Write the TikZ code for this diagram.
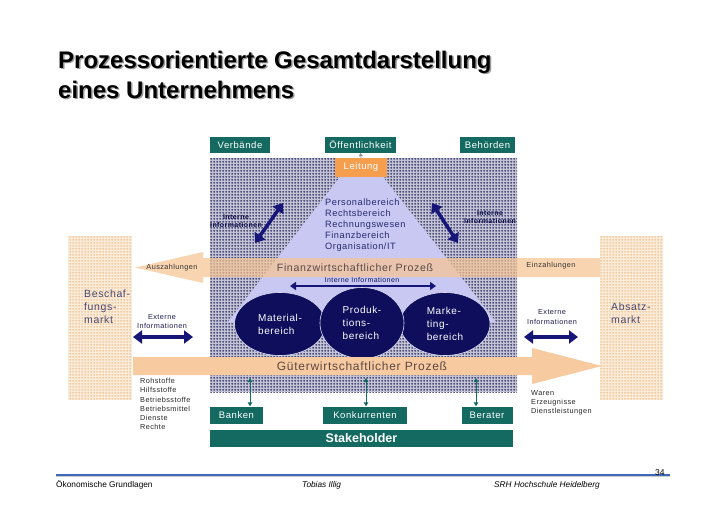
\documentclass[tikz,border=0pt]{standalone}
\usepackage{fontspec}
\setmainfont{Liberation Sans}
\newfontfamily\dfont[LetterSpace=6]{Liberation Sans}
\usetikzlibrary{arrows.meta,patterns.meta,shapes.geometric}
\definecolor{tealbox}{RGB}{20,106,96}
\definecolor{leitorange}{RGB}{245,158,78}
\definecolor{lav}{RGB}{200,200,242}
\definecolor{navyell}{RGB}{14,14,92}
\definecolor{navyarr}{RGB}{22,22,120}
\definecolor{peach}{RGB}{246,196,148}
\definecolor{dotbg}{RGB}{196,196,214}
\definecolor{dotfg}{RGB}{34,34,92}
\definecolor{mktbg}{RGB}{251,236,218}
\definecolor{mktdot}{RGB}{238,192,142}
\definecolor{txtnavy}{RGB}{40,40,112}
\definecolor{txtbrown}{RGB}{92,72,70}
\definecolor{footblue}{RGB}{62,104,188}
\tikzdeclarepattern{name=bdots, type=uncolored,
  bounding box={(0pt,0pt) and (3pt,3pt)}, tile size={(3pt,3pt)},
  code={\fill (1.5pt,1.5pt) circle (1.2pt);}}
\begin{document}
\begin{tikzpicture}[x=1pt,y=-1pt,
  tbox/.style={fill=tealbox, text=white, inner sep=0pt, font=\dfont\fontsize{9.5}{11}\selectfont},
  ell/.style={ellipse, fill=navyell, draw=lav!60!white, line width=0.6pt, text=white, inner sep=0pt, align=left, font=\dfont\fontsize{10}{13}\selectfont},
  bigarrow/.style={draw=navyarr, line width=4pt, {Triangle[length=9pt,width=13pt]}-{Triangle[length=9pt,width=13pt]}},
  midarrow/.style={draw=navyarr, line width=2pt, {Triangle[length=6pt,width=8pt]}-{Triangle[length=6pt,width=8pt]}},
  smallarrow/.style={draw=tealbox, line width=1pt, {Triangle[length=4pt,width=4.5pt]}-{Triangle[length=4pt,width=4.5pt]}},
  smalltxt/.style={font=\dfont\fontsize{7.3}{9.3}\selectfont, inner sep=0pt},
  mkttxt/.style={font=\dfont\fontsize{10.5}{13}\selectfont, text=txtnavy!70!black!80, align=left, inner sep=0pt, anchor=north west},
  footer/.style={font=\fontsize{8.3}{10}\selectfont, inner sep=0pt, anchor=base west}]
\useasboundingbox (0,0) rectangle (728,514);
\fill[white] (0,0) rectangle (728,514);
% title
\node[anchor=base west, inner sep=0pt, align=left, text=black!40, font=\bfseries\fontsize{24}{30}\selectfont] (titleshadow) at (59.5,99.5) {Prozessorientierte Gesamtdarstellung\\eines Unternehmens};
\node[anchor=base west, inner sep=0pt, align=left, font=\bfseries\fontsize{24}{30}\selectfont] (title) at (58,98) {Prozessorientierte Gesamtdarstellung\\eines Unternehmens};
% markets
\fill[mktbg] (68,236) rectangle (132,400);
\fill[pattern=bdots, pattern color=mktdot] (68,236) rectangle (132,400);
\fill[mktbg] (600,236) rectangle (663,400);
\fill[pattern=bdots, pattern color=mktdot] (600,236) rectangle (663,400);
\node[mkttxt] (beschaf) at (84,290) {Beschaf-\\fungs-\\markt};
\node[mkttxt] (absatz) at (611,303) {Absatz-\\markt};
% company dotted area
\fill[dotbg] (210,158) rectangle (517,392);
\fill[pattern=bdots, pattern color=dotfg] (210,158) rectangle (517,392);
% top boxes
\node[tbox, minimum width=60pt, minimum height=16pt] (verb) at (240,145) {Verbände};
\node[tbox, minimum width=71pt, minimum height=16pt] (oeff) at (360.5,145) {Öffentlichkeit};
\node[tbox, minimum width=55pt, minimum height=16pt] (behoe) at (487.5,145) {Behörden};
% triangle
\fill[lav] (340,177) -- (383,177) -- (496,322) -- (228,322) -- cycle;
\node[tbox, fill=leitorange, minimum width=52pt, minimum height=19pt] (leit) at (361,167.5) {Leitung};
\draw[black!45, line width=0.6pt, -{Triangle[length=3pt,width=4pt]}] (leit.north) -- (oeff.south);
\node[anchor=north west, inner sep=0pt, align=left, text=txtnavy, font=\dfont\fontsize{9.2}{11}\selectfont] (bereiche) at (325,199) {Personalbereich\\Rechtsbereich\\Rechnungswesen\\Finanzbereich\\Organisation/IT};
% diagonal arrows
\coordinate (dl1) at (255,243); \coordinate (dl2) at (283,203);
\coordinate (dr1) at (432,203); \coordinate (dr2) at (458,243);
\draw[bigarrow, line width=3.5pt] (dl1) -- (dl2);
\draw[bigarrow, line width=3.5pt] (dr1) -- (dr2);
\node[smalltxt, align=center, text=navyarr!60!black, font=\dfont\bfseries\fontsize{7}{8}\selectfont] (intl) at (236,221) {Interne\\Informationen};
\node[smalltxt, align=center, text=navyarr!60!black, font=\dfont\bfseries\fontsize{7}{8}\selectfont] (intr) at (490,217) {Interne\\Informationen};
% Finanz band
\fill[peach, opacity=0.72] (600,258) -- (203,258) -- (203,252) -- (135,267.5) -- (203,283) -- (203,277) -- (600,277) -- cycle;
\node[inner sep=0pt, text=txtbrown, font=\dfont\fontsize{10.6}{12}\selectfont] (finanz) at (355,267.5) {Finanzwirtschaftlicher Prozeß};
\node[smalltxt, text=black!80] (ausz) at (172,267.5) {Auszahlungen};
\node[smalltxt, text=black!80] (einz) at (551,266) {Einzahlungen};
% internal info
\node[smalltxt, text=navyarr!80!black, font=\dfont\fontsize{7}{8}\selectfont] (intc) at (362,279.5) {Interne Informationen};
\coordinate (ic1) at (290,286); \coordinate (ic2) at (436,286);
\draw[midarrow] (ic1) -- (ic2);
% ellipses
\node[ell, minimum width=91pt, minimum height=63pt] (mat) at (280,324) {Material-\\bereich};
\node[ell, minimum width=90pt, minimum height=63pt] (mkt) at (445,324) {Marke-\\ting-\\bereich};
\node[ell, minimum width=84pt, minimum height=71pt] (prod) at (362,323) {Produk-\\tions-\\bereich};
% Gueter band
\fill[peach!90!white] (133,357) -- (532,357) -- (532,348) -- (602,366) -- (532,384) -- (532,375) -- (133,375) -- cycle;
\node[inner sep=0pt, text=txtbrown, font=\dfont\fontsize{12}{13}\selectfont] (gueter) at (362,366) {Güterwirtschaftlicher Prozeß};
% external info
\node[smalltxt, align=center, text=txtnavy!70!black] (extl) at (162,321.5) {Externe\\Informationen};
\node[smalltxt, align=center, text=txtnavy!70!black] (extr) at (552,317) {Externe\\Informationen};
\coordinate (el1) at (133,337); \coordinate (el2) at (193,337);
\coordinate (er1) at (524,337); \coordinate (er2) at (578,337);
\draw[bigarrow, line width=3.5pt] (el1) -- (el2);
\draw[bigarrow, line width=3.5pt] (er1) -- (er2);
% lists
\node[smalltxt, anchor=north west, align=left, text=black!85] (input) at (140,378) {Rohstoffe\\Hilfsstoffe\\Betriebsstoffe\\Betriebsmittel\\Dienste\\Rechte};
\node[smalltxt, anchor=north west, align=left, text=black!85] (output) at (531,390) {Waren\\Erzeugnisse\\Dienstleistungen};
% bottom boxes
\node[tbox, minimum width=53pt, minimum height=17pt] (bank) at (236.5,415) {Banken};
\node[tbox, minimum width=84pt, minimum height=17pt] (konk) at (365,415) {Konkurrenten};
\node[tbox, minimum width=51pt, minimum height=17pt] (berat) at (487,415) {Berater};
\node[tbox, minimum width=303pt, minimum height=17pt, font=\bfseries\fontsize{12.5}{14}\selectfont] (stake) at (361.5,438.5) {Stakeholder};
\coordinate (s1) at (250,378); \coordinate (s2) at (366,378); \coordinate (s3) at (476,378);
\draw[smallarrow] (s1) -- (s1 |- bank.north);
\draw[smallarrow] (s2) -- (s2 |- konk.north);
\draw[smallarrow] (s3) -- (s3 |- berat.north);
% footer
\coordinate (fl1) at (56,475); \coordinate (fl2) at (670,475);
\draw[black!20, line width=1.5pt] ([yshift=-1.2pt]fl1) -- ([yshift=-1.2pt]fl2);
\draw[footblue, line width=1.6pt] (fl1) -- (fl2);
\node[footer] (f1) at (56,487) {Ökonomische Grundlagen};
\node[footer, font=\itshape\fontsize{8.3}{10}\selectfont] (f2) at (302,487) {Tobias Illig};
\node[footer, font=\itshape\fontsize{8.3}{10}\selectfont] (f3) at (494,487) {SRH Hochschule Heidelberg};
\node[footer, font=\fontsize{8.5}{10}\selectfont] (f4) at (655,475) {34};
\end{tikzpicture}
\end{document}
